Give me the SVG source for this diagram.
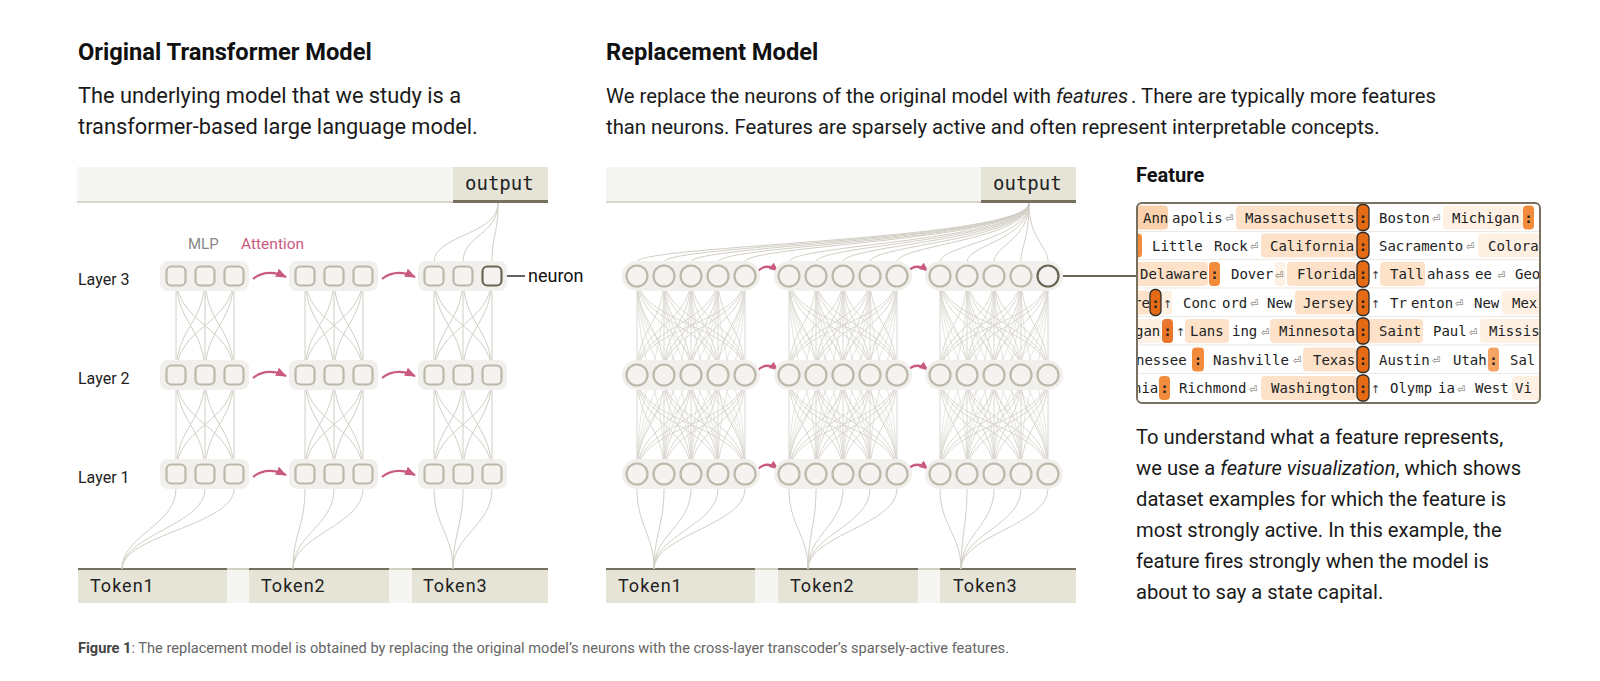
<svg xmlns="http://www.w3.org/2000/svg" width="1600" height="681" viewBox="0 0 1600 681">
<style>
.sans{font-family:Roboto,"Liberation Sans",sans-serif}
.ttl{font-family:Roboto,"Liberation Sans",sans-serif;font-size:23.7px;font-weight:bold;fill:#111}
.body{font-family:Roboto,"Liberation Sans",sans-serif;font-size:20.2px;fill:#1a1a1a}
.lay{font-family:Roboto,"Liberation Sans",sans-serif;font-size:16px;fill:#222}
.mono{font-family:"DejaVu Sans Mono","Liberation Mono",monospace;font-size:19px;fill:#222}
.tok{font-family:Roboto,"Liberation Sans",sans-serif;font-size:18px;fill:#222;letter-spacing:1px}
.bar{fill:#f5f5f2}
.obox{fill:#e6e3d7}
.blk{fill:#f1f0ec}
.nd{fill:#f4f3ef;stroke:#bcb8ab;stroke-width:2.2}
.hi{stroke:#6b6653}
.att{fill:none;stroke:#c95a82;stroke-width:2.2}
.ft{font-family:"DejaVu Sans Mono","Liberation Mono",monospace;font-size:14px;fill:#222}
.rt{font-family:"DejaVu Sans","Liberation Sans",sans-serif;font-size:10px;fill:#666}
.up{font-family:"DejaVu Sans","Liberation Sans",sans-serif;font-size:11px;fill:#333}
.c{text-anchor:middle;font-weight:bold}
.h0{fill:#fbd1ad}
.h1{fill:#fde2c9}
.h2{fill:#fef0e3}
.ob{fill:#f28c3c}
.db{fill:#e56a14;stroke:#2b2b2b;stroke-width:1.3}
.sep{stroke:#ece9e3;stroke-width:1}
</style>
<defs>
<rect id="sq" x="-9.5" y="-9.5" width="19" height="19" rx="5"/>
<circle id="ci" r="10.5"/>
<path id="m3" d="M0 0V99M0 0C0 49.5 29 49.5 29 99M0 0C0 49.5 58 49.5 58 99M29 0C29 49.5 0 49.5 0 99M29 0V99M29 0C29 49.5 58 49.5 58 99M58 0C58 49.5 0 49.5 0 99M58 0C58 49.5 29 49.5 29 99M58 0V99"/>
<path id="m5" d="M0 0V99M0 0C0 49.5 27 49.5 27 99M0 0C0 49.5 54 49.5 54 99M0 0C0 49.5 81 49.5 81 99M0 0C0 49.5 108 49.5 108 99M27 0C27 49.5 0 49.5 0 99M27 0V99M27 0C27 49.5 54 49.5 54 99M27 0C27 49.5 81 49.5 81 99M27 0C27 49.5 108 49.5 108 99M54 0C54 49.5 0 49.5 0 99M54 0C54 49.5 27 49.5 27 99M54 0V99M54 0C54 49.5 81 49.5 81 99M54 0C54 49.5 108 49.5 108 99M81 0C81 49.5 0 49.5 0 99M81 0C81 49.5 27 49.5 27 99M81 0C81 49.5 54 49.5 54 99M81 0V99M81 0C81 49.5 108 49.5 108 99M108 0C108 49.5 0 49.5 0 99M108 0C108 49.5 27 49.5 27 99M108 0C108 49.5 54 49.5 54 99M108 0C108 49.5 81 49.5 81 99M108 0V99"/>
<path id="m5b" d="M0 0C0 99 27 99 27 198M0 0C0 99 54 99 54 198M0 0C0 99 81 99 81 198M0 0C0 99 108 99 108 198M27 0C27 99 0 99 0 198M27 0C27 99 54 99 54 198M27 0C27 99 81 99 81 198M27 0C27 99 108 99 108 198M54 0C54 99 0 99 0 198M54 0C54 99 27 99 27 198M54 0C54 99 81 99 81 198M54 0C54 99 108 99 108 198M81 0C81 99 0 99 0 198M81 0C81 99 27 99 27 198M81 0C81 99 54 99 54 198M81 0C81 99 108 99 108 198M108 0C108 99 0 99 0 198M108 0C108 99 27 99 27 198M108 0C108 99 54 99 54 198M108 0C108 99 81 99 81 198"/>
<marker id="ah" markerUnits="userSpaceOnUse" markerWidth="12" markerHeight="12" viewBox="0 0 12 12" refX="10" refY="6" orient="auto"><path d="M0 1.5L11 6L0 10.5z" fill="#c95a82"/></marker>
<marker id="ahs" markerUnits="userSpaceOnUse" markerWidth="10" markerHeight="10" viewBox="0 0 10 10" refX="8.5" refY="5" orient="auto"><path d="M0 1L9 5L0 9z" fill="#c95a82"/></marker>
<clipPath id="fclip"><rect x="1138" y="204" width="401" height="198" rx="4"/></clipPath>
</defs>

<rect width="1600" height="681" fill="#ffffff"/>

<g id="headings">
<text class="ttl" x="78" y="60">Original Transformer Model</text>
<text class="body" x="78" y="103" style="font-size:21.8px">The underlying model that we study is a</text>
<text class="body" x="78" y="134" style="font-size:21.8px">transformer-based large language model.</text>
<text class="ttl" x="606" y="60">Replacement Model</text>
<text class="body" x="606" y="103" style="font-size:20.3px">We replace the neurons of the original model with <tspan font-style="italic">features</tspan><tspan dx="3">. There are typically more features</tspan></text>
<text class="body" x="606" y="134" style="font-size:20.3px">than neurons. Features are sparsely active and often represent interpretable concepts.</text>
</g>

<g id="orig-output">
<rect class="bar" x="77" y="167" width="471" height="35"/>
<line x1="77" y1="202" x2="453" y2="202" stroke="#cfcabd" stroke-width="1.5"/>
<rect class="obox" x="453" y="167" width="95" height="35"/>
<line x1="453" y1="201.5" x2="548" y2="201.5" stroke="#77705e" stroke-width="3"/>
<text class="mono" x="465" y="190">output</text>
</g>
<g id="repl-output">
<rect class="bar" x="606" y="167" width="470" height="35"/>
<line x1="606" y1="202" x2="981" y2="202" stroke="#cfcabd" stroke-width="1.5"/>
<rect class="obox" x="981" y="167" width="95" height="35"/>
<line x1="981" y1="201.5" x2="1076" y2="201.5" stroke="#77705e" stroke-width="3"/>
<text class="mono" x="993" y="190">output</text>
</g>
<g id="orig-tokens">
<rect class="bar" x="78" y="569" width="470" height="34"/>
<line x1="78" y1="569" x2="548" y2="569" stroke="#d3d0c6" stroke-width="2"/>
<g id="orig-token1"><rect class="obox" x="78" y="569" width="149" height="34"/><line x1="78" y1="569" x2="227" y2="569" stroke="#77705e" stroke-width="2"/><text class="tok" x="90" y="592">Token1</text></g>
<g id="orig-token2"><rect class="obox" x="249" y="569" width="140" height="34"/><line x1="249" y1="569" x2="389" y2="569" stroke="#77705e" stroke-width="2"/><text class="tok" x="261" y="592">Token2</text></g>
<g id="orig-token3"><rect class="obox" x="412" y="569" width="136" height="34"/><line x1="412" y1="569" x2="548" y2="569" stroke="#77705e" stroke-width="2"/><text class="tok" x="423" y="592">Token3</text></g>
</g>
<g id="repl-tokens">
<rect class="bar" x="606" y="569" width="470" height="34"/>
<line x1="606" y1="569" x2="1076" y2="569" stroke="#d3d0c6" stroke-width="2"/>
<g id="repl-token1"><rect class="obox" x="606" y="569" width="149" height="34"/><line x1="606" y1="569" x2="755" y2="569" stroke="#77705e" stroke-width="2"/><text class="tok" x="618" y="592">Token1</text></g>
<g id="repl-token2"><rect class="obox" x="778" y="569" width="140" height="34"/><line x1="778" y1="569" x2="918" y2="569" stroke="#77705e" stroke-width="2"/><text class="tok" x="790" y="592">Token2</text></g>
<g id="repl-token3"><rect class="obox" x="940" y="569" width="136" height="34"/><line x1="940" y1="569" x2="1076" y2="569" stroke="#77705e" stroke-width="2"/><text class="tok" x="953" y="592">Token3</text></g>
</g>

<g id="connectors" fill="none" stroke="#d2cec4" stroke-width="1">
<use href="#m3" x="176" y="276"/><use href="#m3" x="176" y="375"/>
<use href="#m3" x="305" y="276"/><use href="#m3" x="305" y="375"/>
<use href="#m3" x="434" y="276"/><use href="#m3" x="434" y="375"/>
<g stroke="#e0ddd5" stroke-width="0.8">
<use href="#m5b" x="637" y="276"/><use href="#m5b" x="789" y="276"/><use href="#m5b" x="940" y="276"/>
</g>
<g stroke="#d6d3c9" stroke-width="0.9">
<use href="#m5" x="637" y="276"/><use href="#m5" x="637" y="375"/>
<use href="#m5" x="789" y="276"/><use href="#m5" x="789" y="375"/>
<use href="#m5" x="940" y="276"/><use href="#m5" x="940" y="375"/>
</g>
<path d="M122 569C122 535 176 525 176 489V474M122 569C122 535 205 525 205 489V474M122 569C122 535 234 525 234 489V474M293 569C293 535 305 525 305 489V474M293 569C293 535 334 525 334 489V474M293 569C293 535 363 525 363 489V474M453 569C453 535 434 525 434 489V474M453 569C453 535 463 525 463 489V474M453 569C453 535 492 525 492 489V474"/>
<path d="M654 569C654 535 637 525 637 489V474M654 569C654 535 664 525 664 489V474M654 569C654 535 691 525 691 489V474M654 569C654 535 718 525 718 489V474M654 569C654 535 745 525 745 489V474M808 569C808 535 789 525 789 489V474M808 569C808 535 816 525 816 489V474M808 569C808 535 843 525 843 489V474M808 569C808 535 870 525 870 489V474M808 569C808 535 897 525 897 489V474M961 569C961 535 940 525 940 489V474M961 569C961 535 967 525 967 489V474M961 569C961 535 994 525 994 489V474M961 569C961 535 1021 525 1021 489V474M961 569C961 535 1048 525 1048 489V474"/>
<path d="M498 203C498 235 434 235 434 262V276M498 203C498 235 463 235 463 262V276M498 203C498 235 492 235 492 262V276"/>
<path d="M1029 203C1029 240 637 245 637 262V276M1029 203C1029 240 664 245 664 262V276M1029 203C1029 240 691 245 691 262V276M1029 203C1029 240 718 245 718 262V276M1029 203C1029 240 745 245 745 262V276M1029 203C1029 240 789 245 789 262V276M1029 203C1029 240 816 245 816 262V276M1029 203C1029 240 843 245 843 262V276M1029 203C1029 240 870 245 870 262V276M1029 203C1029 240 897 245 897 262V276M1029 203C1029 240 940 245 940 262V276M1029 203C1029 240 967 245 967 262V276M1029 203C1029 240 994 245 994 262V276M1029 203C1029 240 1021 245 1021 262V276M1029 203C1029 240 1048 245 1048 262V276"/>
<line x1="501.5" y1="276" x2="525" y2="276" stroke="#3a3a3a" stroke-width="1.6"/>
<line x1="1059" y1="276" x2="1137" y2="276" stroke="#6b6653" stroke-width="2"/>
<g id="attention-arrows">
<path class="att" marker-end="url(#ah)" d="M253 279Q267 268 286 277"/>
<path class="att" marker-end="url(#ah)" d="M382 279Q396 268 415 277"/>
<path class="att" marker-end="url(#ah)" d="M253 378Q267 367 286 376"/>
<path class="att" marker-end="url(#ah)" d="M382 378Q396 367 415 376"/>
<path class="att" marker-end="url(#ah)" d="M253 477Q267 466 286 475"/>
<path class="att" marker-end="url(#ah)" d="M382 477Q396 466 415 475"/>
<path class="att" stroke-width="2" marker-end="url(#ahs)" d="M757 272Q766 262 778 271"/>
<path class="att" stroke-width="2" marker-end="url(#ahs)" d="M907 272Q916 262 928 271"/>
<path class="att" stroke-width="2" marker-end="url(#ahs)" d="M757 371Q766 361 778 370"/>
<path class="att" stroke-width="2" marker-end="url(#ahs)" d="M907 371Q916 361 928 370"/>
<path class="att" stroke-width="2" marker-end="url(#ahs)" d="M757 470Q766 460 778 469"/>
<path class="att" stroke-width="2" marker-end="url(#ahs)" d="M907 470Q916 460 928 469"/>
</g>
</g>

<g id="labels">
<text class="lay" x="188" y="249" style="font-size:15px;fill:#888">MLP</text>
<text class="lay" x="241" y="249" style="font-size:15.5px;fill:#c95a82">Attention</text>
<text class="lay" x="78" y="285">Layer 3</text>
<text class="lay" x="78" y="384">Layer 2</text>
<text class="lay" x="78" y="483">Layer 1</text>
<text class="lay" x="528" y="282" style="font-size:18px;fill:#111">neuron</text>
</g>

<g id="orig-t1-l3"><rect class="blk" x="160" y="261" width="89" height="30" rx="8"/><use id="o-t1-l3-n1" href="#sq" class="nd" x="176" y="276"/><use id="o-t1-l3-n2" href="#sq" class="nd" x="205" y="276"/><use id="o-t1-l3-n3" href="#sq" class="nd" x="234" y="276"/></g>
<g id="orig-t2-l3"><rect class="blk" x="289" y="261" width="89" height="30" rx="8"/><use id="o-t2-l3-n1" href="#sq" class="nd" x="305" y="276"/><use id="o-t2-l3-n2" href="#sq" class="nd" x="334" y="276"/><use id="o-t2-l3-n3" href="#sq" class="nd" x="363" y="276"/></g>
<g id="orig-t3-l3"><rect class="blk" x="418" y="261" width="89" height="30" rx="8"/><use id="o-t3-l3-n1" href="#sq" class="nd" x="434" y="276"/><use id="o-t3-l3-n2" href="#sq" class="nd" x="463" y="276"/><use id="o-t3-l3-n3" href="#sq" class="nd hi" x="492" y="276"/></g>
<g id="orig-t1-l2"><rect class="blk" x="160" y="360" width="89" height="30" rx="8"/><use id="o-t1-l2-n1" href="#sq" class="nd" x="176" y="375"/><use id="o-t1-l2-n2" href="#sq" class="nd" x="205" y="375"/><use id="o-t1-l2-n3" href="#sq" class="nd" x="234" y="375"/></g>
<g id="orig-t2-l2"><rect class="blk" x="289" y="360" width="89" height="30" rx="8"/><use id="o-t2-l2-n1" href="#sq" class="nd" x="305" y="375"/><use id="o-t2-l2-n2" href="#sq" class="nd" x="334" y="375"/><use id="o-t2-l2-n3" href="#sq" class="nd" x="363" y="375"/></g>
<g id="orig-t3-l2"><rect class="blk" x="418" y="360" width="89" height="30" rx="8"/><use id="o-t3-l2-n1" href="#sq" class="nd" x="434" y="375"/><use id="o-t3-l2-n2" href="#sq" class="nd" x="463" y="375"/><use id="o-t3-l2-n3" href="#sq" class="nd" x="492" y="375"/></g>
<g id="orig-t1-l1"><rect class="blk" x="160" y="459" width="89" height="30" rx="8"/><use id="o-t1-l1-n1" href="#sq" class="nd" x="176" y="474"/><use id="o-t1-l1-n2" href="#sq" class="nd" x="205" y="474"/><use id="o-t1-l1-n3" href="#sq" class="nd" x="234" y="474"/></g>
<g id="orig-t2-l1"><rect class="blk" x="289" y="459" width="89" height="30" rx="8"/><use id="o-t2-l1-n1" href="#sq" class="nd" x="305" y="474"/><use id="o-t2-l1-n2" href="#sq" class="nd" x="334" y="474"/><use id="o-t2-l1-n3" href="#sq" class="nd" x="363" y="474"/></g>
<g id="orig-t3-l1"><rect class="blk" x="418" y="459" width="89" height="30" rx="8"/><use id="o-t3-l1-n1" href="#sq" class="nd" x="434" y="474"/><use id="o-t3-l1-n2" href="#sq" class="nd" x="463" y="474"/><use id="o-t3-l1-n3" href="#sq" class="nd" x="492" y="474"/></g>

<g id="repl-t1-l3"><rect class="blk" x="622" y="261" width="138" height="30" rx="15"/><use href="#ci" class="nd" x="637" y="276"/><use href="#ci" class="nd" x="664" y="276"/><use href="#ci" class="nd" x="691" y="276"/><use href="#ci" class="nd" x="718" y="276"/><use href="#ci" class="nd" x="745" y="276"/></g>
<g id="repl-t2-l3"><rect class="blk" x="774" y="261" width="138" height="30" rx="15"/><use href="#ci" class="nd" x="789" y="276"/><use href="#ci" class="nd" x="816" y="276"/><use href="#ci" class="nd" x="843" y="276"/><use href="#ci" class="nd" x="870" y="276"/><use href="#ci" class="nd" x="897" y="276"/></g>
<g id="repl-t3-l3"><rect class="blk" x="925" y="261" width="138" height="30" rx="15"/><use href="#ci" class="nd" x="940" y="276"/><use href="#ci" class="nd" x="967" y="276"/><use href="#ci" class="nd" x="994" y="276"/><use href="#ci" class="nd" x="1021" y="276"/><use id="feature-node" href="#ci" class="nd hi" x="1048" y="276"/></g>
<g id="repl-t1-l2"><rect class="blk" x="622" y="360" width="138" height="30" rx="15"/><use href="#ci" class="nd" x="637" y="375"/><use href="#ci" class="nd" x="664" y="375"/><use href="#ci" class="nd" x="691" y="375"/><use href="#ci" class="nd" x="718" y="375"/><use href="#ci" class="nd" x="745" y="375"/></g>
<g id="repl-t2-l2"><rect class="blk" x="774" y="360" width="138" height="30" rx="15"/><use href="#ci" class="nd" x="789" y="375"/><use href="#ci" class="nd" x="816" y="375"/><use href="#ci" class="nd" x="843" y="375"/><use href="#ci" class="nd" x="870" y="375"/><use href="#ci" class="nd" x="897" y="375"/></g>
<g id="repl-t3-l2"><rect class="blk" x="925" y="360" width="138" height="30" rx="15"/><use href="#ci" class="nd" x="940" y="375"/><use href="#ci" class="nd" x="967" y="375"/><use href="#ci" class="nd" x="994" y="375"/><use href="#ci" class="nd" x="1021" y="375"/><use href="#ci" class="nd" x="1048" y="375"/></g>
<g id="repl-t1-l1"><rect class="blk" x="622" y="459" width="138" height="30" rx="15"/><use href="#ci" class="nd" x="637" y="474"/><use href="#ci" class="nd" x="664" y="474"/><use href="#ci" class="nd" x="691" y="474"/><use href="#ci" class="nd" x="718" y="474"/><use href="#ci" class="nd" x="745" y="474"/></g>
<g id="repl-t2-l1"><rect class="blk" x="774" y="459" width="138" height="30" rx="15"/><use href="#ci" class="nd" x="789" y="474"/><use href="#ci" class="nd" x="816" y="474"/><use href="#ci" class="nd" x="843" y="474"/><use href="#ci" class="nd" x="870" y="474"/><use href="#ci" class="nd" x="897" y="474"/></g>
<g id="repl-t3-l1"><rect class="blk" x="925" y="459" width="138" height="30" rx="15"/><use href="#ci" class="nd" x="940" y="474"/><use href="#ci" class="nd" x="967" y="474"/><use href="#ci" class="nd" x="994" y="474"/><use href="#ci" class="nd" x="1021" y="474"/><use href="#ci" class="nd" x="1048" y="474"/></g>

<g id="feature">
<text class="ttl" x="1136" y="182" style="font-size:20px">Feature</text>
<rect x="1137" y="203" width="403" height="200" rx="5" fill="#ffffff"/>
<g clip-path="url(#fclip)">
<line class="sep" x1="1137" y1="231.5" x2="1540" y2="231.5"/>
<line class="sep" x1="1137" y1="259.5" x2="1540" y2="259.5"/>
<line class="sep" x1="1137" y1="288" x2="1540" y2="288"/>
<line class="sep" x1="1137" y1="316.5" x2="1540" y2="316.5"/>
<line class="sep" x1="1137" y1="345" x2="1540" y2="345"/>
<line class="sep" x1="1137" y1="373.5" x2="1540" y2="373.5"/>
<rect class="h0" x="1133" y="205.5" width="35" height="24" rx="4"/>
<text class="ft" x="1143" y="222.5">Ann</text>
<text class="ft" x="1172" y="222.5">apolis</text>
<text class="rt" x="1225" y="222">⏎</text>
<rect class="h1" x="1236" y="205.5" width="121" height="24" rx="4"/>
<text class="ft" x="1245" y="222.5">Massachusetts</text>
<rect class="db" x="1357" y="204.5" width="12" height="26" rx="5"/>
<text class="ft c" x="1363" y="222.5">:</text>
<text class="ft" x="1379" y="222.5">Boston</text>
<text class="rt" x="1432" y="222">⏎</text>
<rect class="h2" x="1443" y="205.5" width="80" height="24" rx="4"/>
<text class="ft" x="1452" y="222.5">Michigan</text>
<rect class="ob" x="1523" y="205.5" width="11" height="24" rx="4"/>
<text class="ft c" x="1528.5" y="222.5">:</text>
<rect class="ob" x="1131" y="233.5" width="11" height="24" rx="4"/>
<text class="ft" x="1152" y="250.5">Little</text>
<text class="ft" x="1214" y="250.5">Rock</text>
<text class="rt" x="1250" y="250">⏎</text>
<rect class="h1" x="1261" y="233.5" width="96" height="24" rx="4"/>
<text class="ft" x="1270" y="250.5">California</text>
<rect class="db" x="1357" y="232.5" width="12" height="26" rx="5"/>
<text class="ft c" x="1363" y="250.5">:</text>
<text class="ft" x="1379" y="250.5">Sacramento</text>
<text class="rt" x="1466" y="250">⏎</text>
<rect class="h2" x="1478" y="233.5" width="70" height="24" rx="4"/>
<text class="ft" x="1488" y="250.5">Colora</text>
<rect class="h1" x="1133" y="262" width="75" height="24" rx="4"/>
<text class="ft" x="1140" y="279">Delaware</text>
<rect class="ob" x="1209" y="262" width="11" height="24" rx="4"/>
<text class="ft c" x="1214.5" y="279">:</text>
<text class="ft" x="1231" y="279">Dover</text>
<rect class="h2" x="1275" y="262" width="10" height="24" rx="3"/>
<text class="rt" x="1275" y="278.5">⏎</text>
<rect class="h1" x="1287" y="262" width="70" height="24" rx="4"/>
<text class="ft" x="1297" y="279">Florida</text>
<rect class="db" x="1357" y="261" width="12" height="26" rx="5"/>
<text class="ft c" x="1363" y="279">:</text>
<text class="up" x="1371" y="279">↑</text>
<rect class="h1" x="1380" y="262" width="45" height="24" rx="4"/>
<text class="ft" x="1390" y="279">Tall</text>
<text class="ft" x="1427" y="279">ah</text>
<text class="ft" x="1445" y="279">ass</text>
<text class="ft" x="1475" y="279">ee</text>
<text class="rt" x="1497" y="278.5">⏎</text>
<text class="ft" x="1515" y="279">Geo</text>
<rect class="h1" x="1131" y="290.5" width="19" height="24" rx="4"/>
<text class="ft" x="1133" y="307.5">re</text>
<rect class="db" x="1150" y="289.5" width="11" height="26" rx="5"/>
<text class="ft c" x="1155.5" y="307.5">:</text>
<rect class="h2" x="1162" y="290.5" width="10" height="24" rx="3"/>
<text class="up" x="1163" y="307.5">↑</text>
<text class="ft" x="1183" y="307.5">Conc</text>
<text class="ft" x="1222" y="307.5">ord</text>
<text class="rt" x="1250" y="307">⏎</text>
<text class="ft" x="1267" y="307.5">New</text>
<rect class="h1" x="1295" y="290.5" width="62" height="24" rx="4"/>
<text class="ft" x="1303" y="307.5">Jersey</text>
<rect class="db" x="1357" y="289.5" width="12" height="26" rx="5"/>
<text class="ft c" x="1363" y="307.5">:</text>
<text class="up" x="1371" y="307.5">↑</text>
<text class="ft" x="1390" y="307.5">Tr</text>
<text class="ft" x="1411" y="307.5">enton</text>
<text class="rt" x="1455" y="307">⏎</text>
<text class="ft" x="1474" y="307.5">New</text>
<rect class="h2" x="1502" y="290.5" width="46" height="24" rx="4"/>
<text class="ft" x="1512" y="307.5">Mex</text>
<rect class="h2" x="1131" y="319" width="30" height="24" rx="4"/>
<text class="ft" x="1135" y="336">gan</text>
<rect class="ob" x="1162" y="319" width="11" height="24" rx="4" style="fill:#e9762a"/>
<text class="ft c" x="1167.5" y="336">:</text>
<text class="up" x="1176" y="336">↑</text>
<rect class="h1" x="1185" y="319" width="44" height="24" rx="4"/>
<text class="ft" x="1190" y="336">Lans</text>
<text class="ft" x="1232" y="336">ing</text>
<text class="rt" x="1261" y="335.5">⏎</text>
<rect class="h1" x="1270" y="319" width="87" height="24" rx="4"/>
<text class="ft" x="1279" y="336">Minnesota</text>
<rect class="h1" x="1366" y="319" width="57" height="24" rx="4"/>
<rect class="db" x="1357" y="318" width="12" height="26" rx="5"/>
<text class="ft c" x="1363" y="336">:</text>
<text class="ft" x="1379" y="336">Saint</text>
<text class="ft" x="1433" y="336">Paul</text>
<text class="rt" x="1469" y="335.5">⏎</text>
<rect class="h2" x="1480" y="319" width="70" height="24" rx="4"/>
<text class="ft" x="1489" y="336">Missis</text>
<text class="ft" x="1136" y="364.5">nessee</text>
<rect class="ob" x="1192" y="347.5" width="12" height="24" rx="4"/>
<text class="ft c" x="1198" y="364.5">:</text>
<text class="ft" x="1213" y="364.5">Nashville</text>
<text class="rt" x="1293" y="364">⏎</text>
<rect class="h1" x="1303" y="347.5" width="54" height="24" rx="4"/>
<text class="ft" x="1313" y="364.5">Texas</text>
<rect class="db" x="1357" y="346.5" width="12" height="26" rx="5"/>
<text class="ft c" x="1363" y="364.5">:</text>
<text class="ft" x="1379" y="364.5">Austin</text>
<text class="rt" x="1432" y="364">⏎</text>
<text class="ft" x="1453" y="364.5">Utah</text>
<rect class="ob" x="1488" y="347.5" width="11" height="24" rx="4" style="fill:#f5a263"/>
<text class="ft c" x="1493.5" y="364.5">:</text>
<text class="ft" x="1510" y="364.5">Sal</text>
<text class="ft" x="1133" y="393">nia</text>
<rect class="ob" x="1159" y="376" width="11" height="24" rx="4"/>
<text class="ft c" x="1164.5" y="393">:</text>
<text class="ft" x="1179" y="393">Richmond</text>
<text class="rt" x="1249" y="392.5">⏎</text>
<rect class="h1" x="1261" y="376" width="96" height="24" rx="4"/>
<text class="ft" x="1271" y="393">Washington</text>
<rect class="db" x="1357" y="375" width="12" height="26" rx="5"/>
<text class="ft c" x="1363" y="393">:</text>
<text class="up" x="1371" y="393">↑</text>
<text class="ft" x="1390" y="393">Olymp</text>
<text class="ft" x="1438" y="393">ia</text>
<text class="rt" x="1457" y="392.5">⏎</text>
<text class="ft" x="1475" y="393">West</text>
<rect class="h2" x="1512" y="376" width="36" height="24" rx="4"/>
<text class="ft" x="1515" y="393">Vi</text>
</g>
<rect x="1137" y="203" width="403" height="200" rx="5" fill="none" stroke="#77705e" stroke-width="2"/>
</g>

<g id="feature-description">
<text class="body" x="1136" y="444">To understand what a feature represents,</text>
<text class="body" x="1136" y="475">we use a <tspan font-style="italic">feature visualization</tspan>, which shows</text>
<text class="body" x="1136" y="506">dataset examples for which the feature is</text>
<text class="body" x="1136" y="537">most strongly active. In this example, the</text>
<text class="body" x="1136" y="568">feature fires strongly when the model is</text>
<text class="body" x="1136" y="599">about to say a state capital.</text>
</g>

<g id="caption">
<text class="sans" x="78" y="653" style="font-size:14.6px;fill:#666"><tspan font-weight="bold" fill="#444">Figure 1</tspan>: The replacement model is obtained by replacing the original model’s neurons with the cross-layer transcoder’s sparsely-active features.</text>
</g>
</svg>
